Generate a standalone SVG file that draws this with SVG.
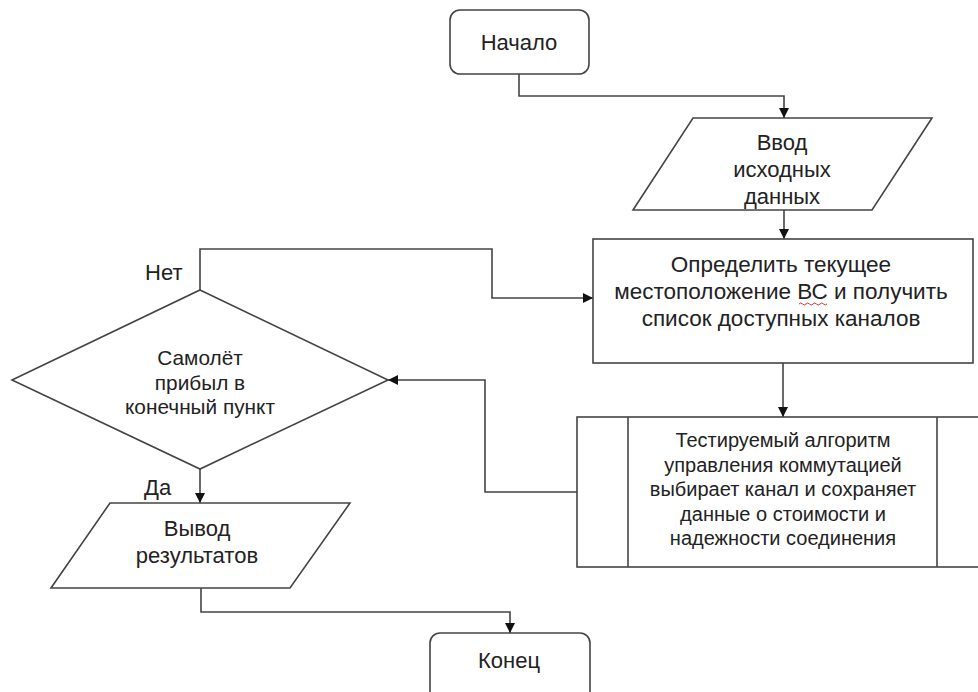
<svg xmlns="http://www.w3.org/2000/svg" width="978" height="692" viewBox="0 0 978 692">
<defs>
<marker id="arr" viewBox="0 0 10 10" refX="10" refY="5" markerWidth="10" markerHeight="10" markerUnits="userSpaceOnUse" orient="auto">
<path d="M0,0 L10,5 L0,10 z" fill="#111"/>
</marker>
<style>
.s{fill:#fff;stroke:#444;stroke-width:1.6}
.c{fill:none;stroke:#444;stroke-width:1.6;marker-end:url(#arr)}
.cn{fill:none;stroke:#444;stroke-width:1.6}
text{font-family:"Liberation Sans",Arial,sans-serif;fill:#222;text-anchor:middle;dominant-baseline:central}
.t22{font-size:22px}
.t225{font-size:22.5px}
.t20{font-size:20px}
.t21{font-size:20.8px}
.lbl{text-anchor:start}
</style>
</defs>
<rect width="978" height="692" fill="#fff"/>
<g id="connectors">
<path class="c" d="M519,74 V96 H784 V118"/>
<path class="c" d="M784,210 V239"/>
<path class="c" d="M783,363 V417"/>
<path class="c" d="M577,492 H485 V380 H388"/>
<path class="c" d="M200,290 V249 H492 V298 H593"/>
<path class="c" d="M200,469 V503"/>
<path class="c" d="M201,588 V612 H510 V633"/>
</g>
<g id="start">
<rect class="s" x="450" y="10" width="139" height="64" rx="10"/>
<text class="t22" x="519" y="42">Начало</text>
</g>
<g id="input">
<polygon class="s" points="693,118 932,118 872,210 633,210"/>
<text class="t22" x="782" y="142">Ввод</text>
<text class="t22" x="782" y="169">исходных</text>
<text class="t22" x="782" y="196">данных</text>
</g>
<g id="locate">
<rect class="s" x="593" y="239" width="380" height="124"/>
<text class="t225" x="781" y="264">Определить текущее</text>
<text class="t225" x="781" y="291">местоположение ВС и получить</text>
<text class="t225" x="781" y="318">список доступных каналов</text>
<path d="M799,304 q1.75,-2 3.5,0 t3.5,0 t3.5,0 t3.5,0 t3.5,0 t3.5,0 t3.5,0 t3.5,0" fill="none" stroke="#d33" stroke-width="1"/>
</g>
<g id="algorithm">
<rect class="s" x="577" y="417" width="410" height="150"/>
<line class="cn" x1="628" y1="417" x2="628" y2="567"/>
<line class="cn" x1="937" y1="417" x2="937" y2="567"/>
<text class="t20" x="783" y="440">Тестируемый алгоритм</text>
<text class="t20" x="783" y="465">управления коммутацией</text>
<text class="t20" x="783" y="489">выбирает канал и сохраняет</text>
<text class="t20" x="783" y="514">данные о стоимости и</text>
<text class="t20" x="783" y="538">надежности соединения</text>
</g>
<g id="decision">
<polygon class="s" points="200,290 388,380 200,469 12,380"/>
<text class="t21" x="200" y="357">Самолёт</text>
<text class="t21" x="200" y="382">прибыл в</text>
<text class="t21" x="200" y="406">конечный пункт</text>
<text class="t22 lbl" x="145" y="272">Нет</text>
<text class="t22 lbl" x="144" y="487">Да</text>
</g>
<g id="output">
<polygon class="s" points="110,503 350,503 290,588 51,588"/>
<text class="t22" x="197" y="528">Вывод</text>
<text class="t22" x="197" y="555">результатов</text>
</g>
<g id="end">
<rect class="s" x="430" y="633" width="160" height="72" rx="10"/>
<text class="t22" x="509" y="660">Конец</text>
</g>
</svg>
